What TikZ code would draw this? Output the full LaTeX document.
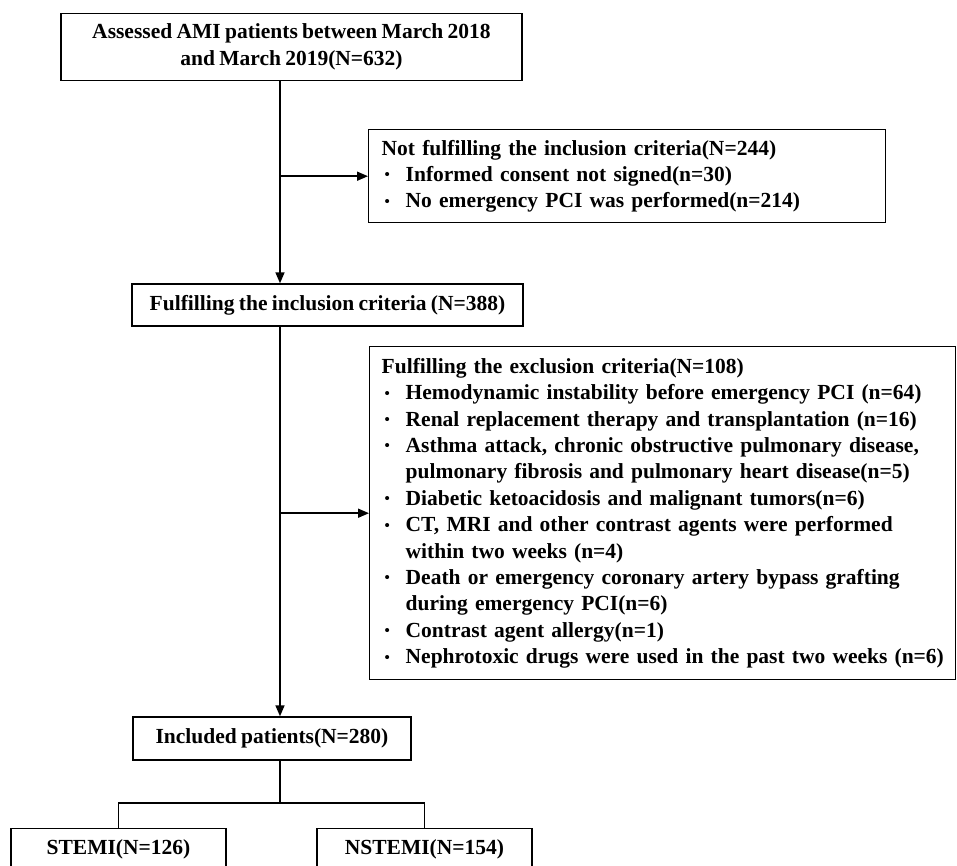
\documentclass[tikz,border=0pt]{standalone}
\usepackage{fontspec}
\setmainfont{Liberation Serif}[WordSpace=0.8]
\usepackage{tikz}
\usetikzlibrary{arrows.meta}

\newcommand{\boxfont}{\bfseries\fontsize{21.5}{26.4}\selectfont}
\newcommand{\itm}{\makebox[24pt][l]{\hspace{3pt}\raisebox{1.5pt}{\fontsize{15}{15}\selectfont\textbullet}}}
\newcommand{\cnt}{\hspace*{24pt}}

\tikzset{
    box/.style={draw, line width=1.4pt, inner xsep=13pt, inner ysep=0pt, font=\boxfont},
    list/.style={box, anchor=north west, align=left},
    link/.style={line width=1.6pt, -{Triangle[length=11pt, width=9pt]}},
}

\begin{document}
\begin{tikzpicture}[x=1pt, y=-1pt]
    \useasboundingbox (0, 0) rectangle (957, 865);

    \node[box, align=center, minimum width=461pt, minimum height=67pt] at (291.5, 47) (assessed)
        {Assessed AMI patients between March 2018\\and March 2019(N=632)};
    \node[list, text width=491pt, minimum height=93pt] at (368, 129) (notincl)
        {\begin{tabular}{@{}l@{}}
         Not fulfilling the inclusion criteria(N=244)\\
         \itm Informed consent not signed(n=30)\\
         \itm No emergency PCI was performed(n=214)
         \end{tabular}};
    \node[box, minimum width=391pt, minimum height=42pt] at (327.5, 305) (incl)
        {Fulfilling the inclusion criteria (N=388)};
    \node[list, text width=562pt, inner xsep=12pt, minimum height=333pt] at (369, 346) (excl)
        {\begin{tabular}{@{}l@{}}
         Fulfilling the exclusion criteria(N=108)\\
         \itm Hemodynamic instability before emergency PCI (n=64)\\
         \itm Renal replacement therapy and transplantation (n=16)\\
         \itm Asthma attack, chronic obstructive pulmonary disease,\\
         \cnt pulmonary fibrosis and pulmonary heart disease(n=5)\\
         \itm Diabetic ketoacidosis and malignant tumors(n=6)\\
         \itm CT, MRI and other contrast agents were performed\\
         \cnt within two weeks (n=4)\\
         \itm Death or emergency coronary artery bypass grafting\\
         \cnt during emergency PCI(n=6)\\
         \itm Contrast agent allergy(n=1)\\
         \itm Nephrotoxic drugs were used in the past two weeks (n=6)
         \end{tabular}};
    \node[box, minimum width=278pt, minimum height=43pt] at (272, 738.5) (included)
        {Included patients(N=280)};
    \node[box, anchor=north, minimum width=215pt, minimum height=42pt] at (118.5, 828) (stemi)
        {STEMI(N=126)};
    \node[box, anchor=north, minimum width=215pt, minimum height=42pt] at (424.5, 828) (nstemi)
        {NSTEMI(N=154)};

    \coordinate (trunk) at (280, 0);
    \coordinate (fork) at (280, 803);

    \draw[link] (assessed.south -| trunk) -- (incl.north -| trunk);
    \draw[link] (trunk |- notincl.west) -- (notincl.west);
    \draw[link] (incl.south -| trunk) -- (included.north -| trunk);
    \draw[link] (trunk |- excl.west) -- (excl.west);
    \draw[line width=1.6pt] (included.south -| fork) -- (fork);
    \draw[line width=1.6pt] (stemi.north) |- (fork) -| (nstemi.north);
\end{tikzpicture}
\end{document}
